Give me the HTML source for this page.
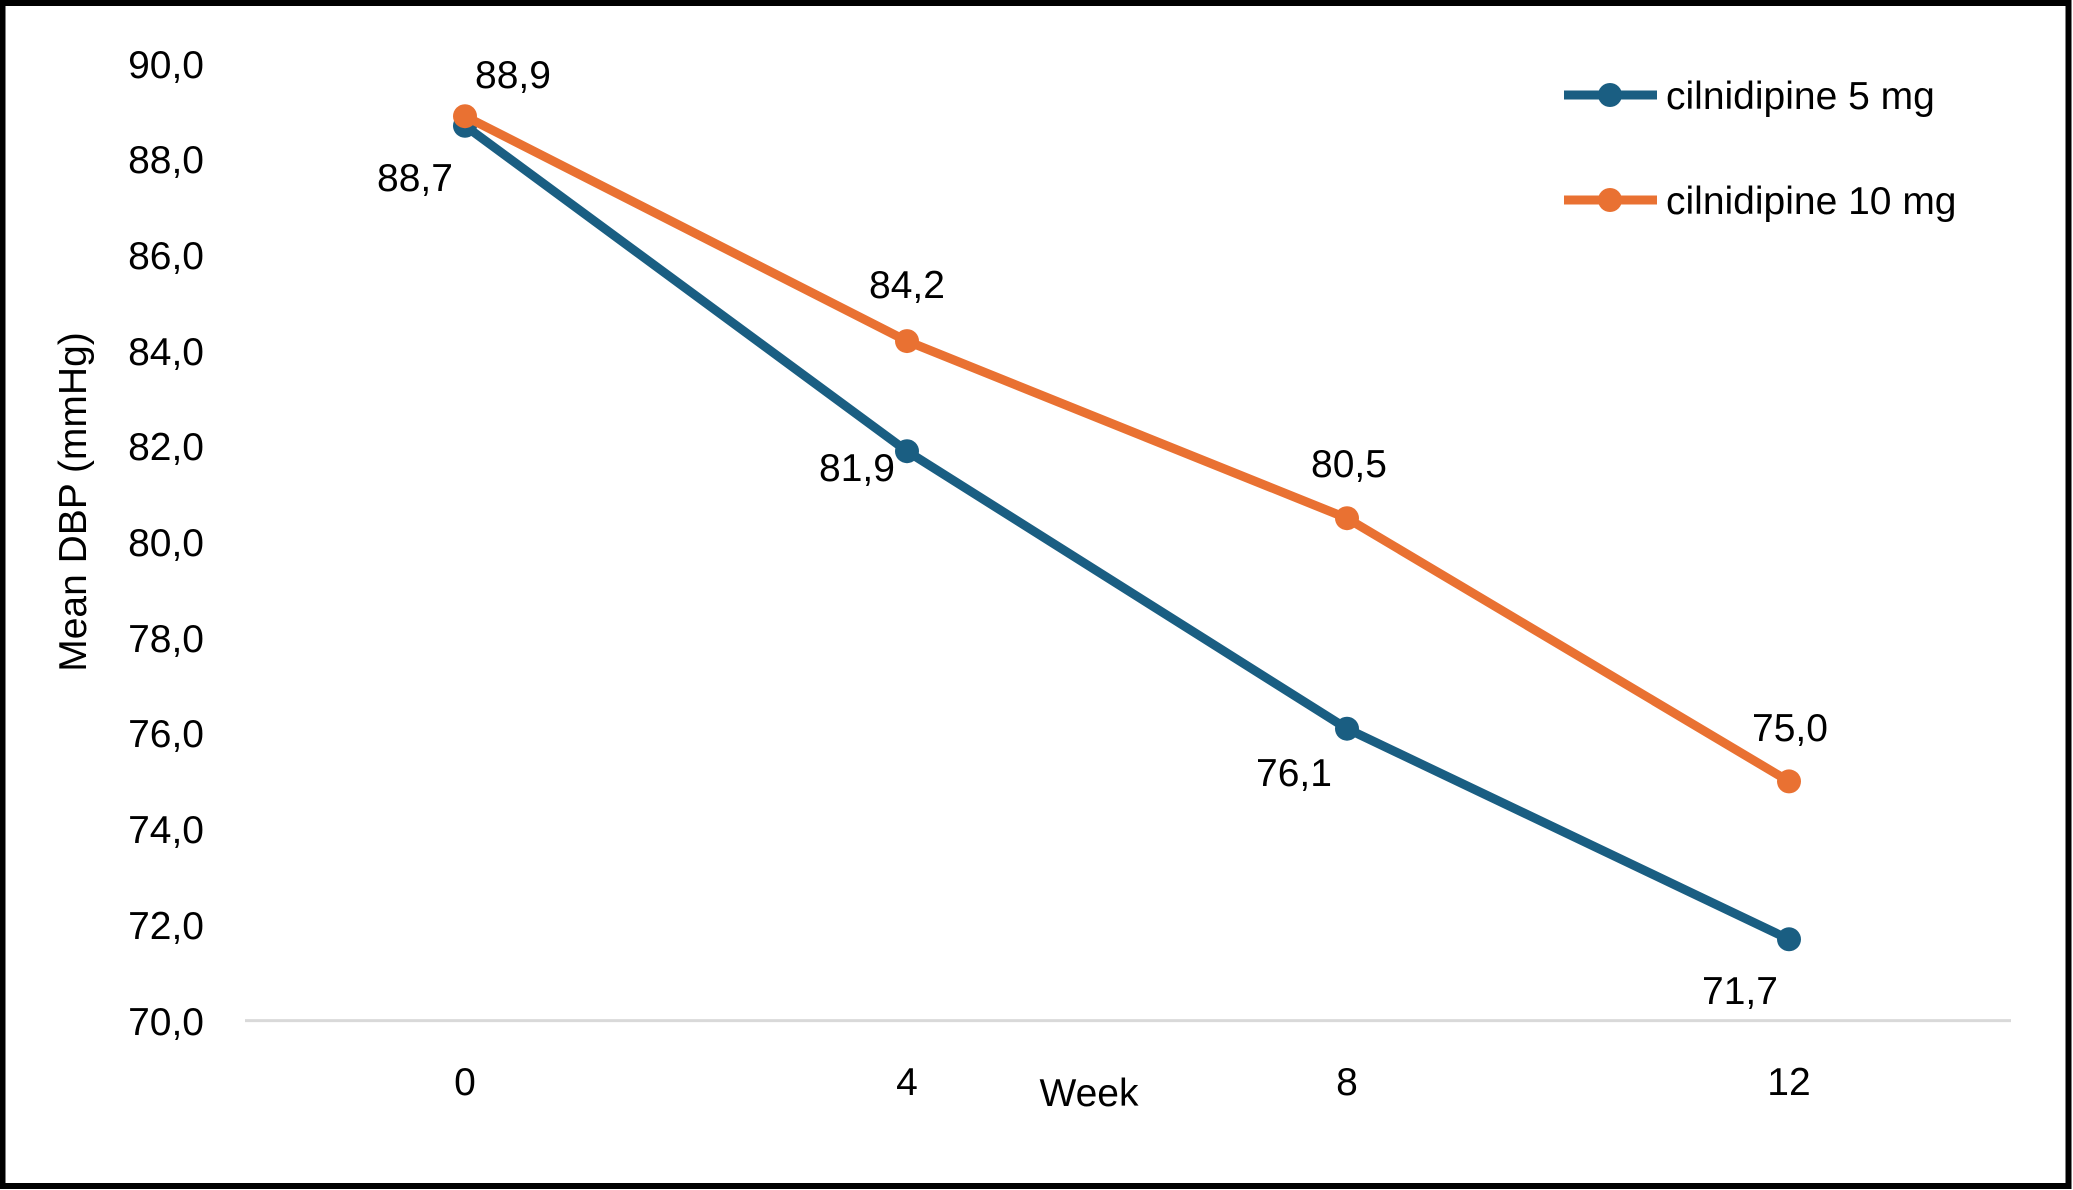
<!DOCTYPE html>
<html><head><style>
html,body{margin:0;padding:0;background:#fff}
svg{display:block}
text{font-family:"Liberation Sans",sans-serif;fill:#000}
</style></head><body>
<svg width="2073" height="1190" viewBox="0 0 2073 1190" xmlns="http://www.w3.org/2000/svg">
<rect x="2.5" y="3" width="2066" height="1183" fill="#fff" stroke="#000" stroke-width="6"/>
<line x1="245" y1="1020.6" x2="2011" y2="1020.6" stroke="#d9d9d9" stroke-width="3"/>
<g font-size="39" text-anchor="end">
<text x="204" y="78">90,0</text>
<text x="204" y="173">88,0</text>
<text x="204" y="269">86,0</text>
<text x="204" y="365">84,0</text>
<text x="204" y="460">82,0</text>
<text x="204" y="556">80,0</text>
<text x="204" y="652">78,0</text>
<text x="204" y="747">76,0</text>
<text x="204" y="843">74,0</text>
<text x="204" y="939">72,0</text>
<text x="204" y="1035">70,0</text>
</g>
<g font-size="39" text-anchor="middle">
<text x="465" y="1095">0</text>
<text x="907" y="1095">4</text>
<text x="1347" y="1095">8</text>
<text x="1789" y="1095">12</text>
<text x="1089" y="1106">Week</text>
<text transform="translate(86,502) rotate(-90)">Mean DBP (mmHg)</text>
</g>
<polyline points="465,125.8 907,451.2 1347,728.7 1789,939.3" fill="none" stroke="#1a5e82" stroke-width="9" stroke-linejoin="round"/>
<g fill="#1a5e82"><circle cx="465" cy="125.8" r="12"/><circle cx="907" cy="451.2" r="12"/><circle cx="1347" cy="728.7" r="12"/><circle cx="1789" cy="939.3" r="12"/></g>
<polyline points="465,116.2 907,341.1 1347,518.2 1789,781.4" fill="none" stroke="#e97132" stroke-width="9" stroke-linejoin="round"/>
<g fill="#e97132"><circle cx="465" cy="116.2" r="12"/><circle cx="907" cy="341.1" r="12"/><circle cx="1347" cy="518.2" r="12"/><circle cx="1789" cy="781.4" r="12"/></g>
<g font-size="39" text-anchor="middle">
<text x="513" y="88">88,9</text>
<text x="415" y="191">88,7</text>
<text x="907" y="298">84,2</text>
<text x="857" y="481">81,9</text>
<text x="1349" y="477">80,5</text>
<text x="1294" y="786">76,1</text>
<text x="1790" y="741">75,0</text>
<text x="1740" y="1004">71,7</text>
</g>
<line x1="1564" y1="95" x2="1657" y2="95" stroke="#1a5e82" stroke-width="9"/>
<circle cx="1610" cy="95" r="12" fill="#1a5e82"/>
<line x1="1564" y1="200" x2="1657" y2="200" stroke="#e97132" stroke-width="9"/>
<circle cx="1610" cy="200" r="12" fill="#e97132"/>
<g font-size="39">
<text x="1666" y="109">cilnidipine 5 mg</text>
<text x="1666" y="214">cilnidipine 10 mg</text>
</g>
</svg>
</body></html>
